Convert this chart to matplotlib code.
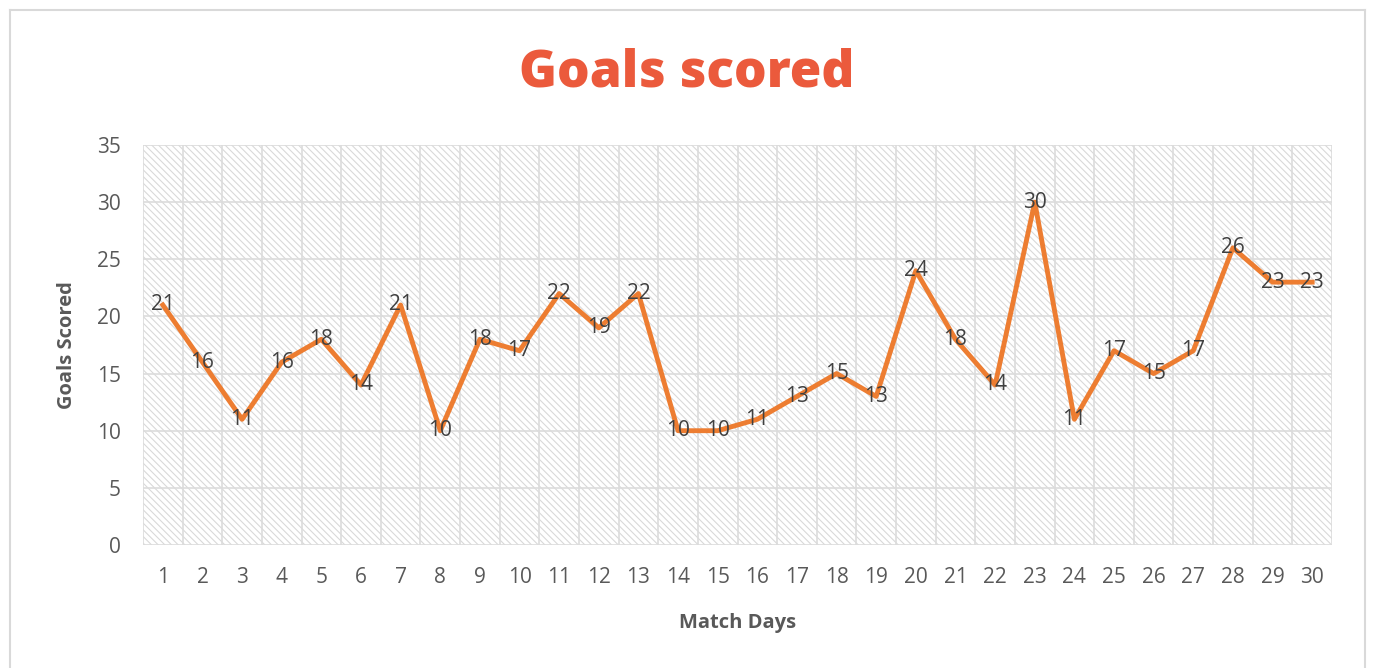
import numpy as np
import matplotlib.pyplot as plt
from matplotlib.lines import Line2D

# data
days = list(range(1, 31))
goals = [21, 16, 11, 16, 18, 14, 21, 10, 18, 17, 22, 19, 22, 10, 10,
         11, 13, 15, 13, 24, 18, 14, 30, 11, 17, 15, 17, 26, 23, 23]
y_ticks = [0, 5, 10, 15, 20, 25, 30, 35]

plt.rcParams['font.family'] = ['Open Sans', 'DejaVu Sans']
plt.rcParams['hatch.color'] = '#d9d9d9'
plt.rcParams['hatch.linewidth'] = 0.8

fig = plt.figure(figsize=(13.98, 6.68), dpi=100)
ax = fig.add_axes([143 / 1398, 1 - 545 / 668, (1332 - 143) / 1398, 400 / 668])

# hatched background
ax.patch.set_facecolor('white')
ax.patch.set_hatch('\\\\\\\\\\')
ax.patch.set_edgecolor('#d9d9d9')
ax.patch.set_linewidth(0)

ax.plot(days, goals, color='#ED7D31', linewidth=3.5, zorder=3)
for d, g in zip(days, goals):
    ax.text(d, g, str(g), ha='center', va='center', fontsize=15,
            color='#404040', zorder=4)

ax.set_xlim(0.5, 30.5)
ax.set_ylim(0, 35)
ax.set_xticks(days)
ax.set_yticks(y_ticks)
ax.set_xticks(np.arange(0.5, 31, 1), minor=True)
ax.grid(False)
ax.grid(True, which='minor', axis='x', color='#dcdcdc', linewidth=1.2)
ax.grid(True, which='major', axis='y', color='#dcdcdc', linewidth=1.2)
ax.tick_params(axis='both', which='both', length=0, labelsize=15,
               labelcolor='#595959')
ax.tick_params(axis='y', pad=16)
ax.tick_params(axis='x', pad=16)
for s in ax.spines.values():
    s.set_visible(False)

ax.set_xlabel('Match Days', fontsize=14.5, fontweight='bold', color='#595959',
              labelpad=18)
ax.set_ylabel('Goals Scored', fontsize=14.5, fontweight='bold', color='#595959',
              labelpad=14)

fig.text(687 / 1398, 1 - 73 / 668, 'Goals scored', ha='center', va='center',
         fontsize=37, fontweight='heavy', color='#EB5A3C')

# chart border
fig.add_artist(Line2D([10 / 1398, 1365 / 1398], [1 - 10 / 668, 1 - 10 / 668],
                      color='#d9d9d9', linewidth=1.5))
fig.add_artist(Line2D([10 / 1398, 10 / 1398], [0, 1 - 10 / 668],
                      color='#d9d9d9', linewidth=1.5))
fig.add_artist(Line2D([1365 / 1398, 1365 / 1398], [0, 1 - 10 / 668],
                      color='#d9d9d9', linewidth=1.5))

fig.savefig('out.png', dpi=100)
